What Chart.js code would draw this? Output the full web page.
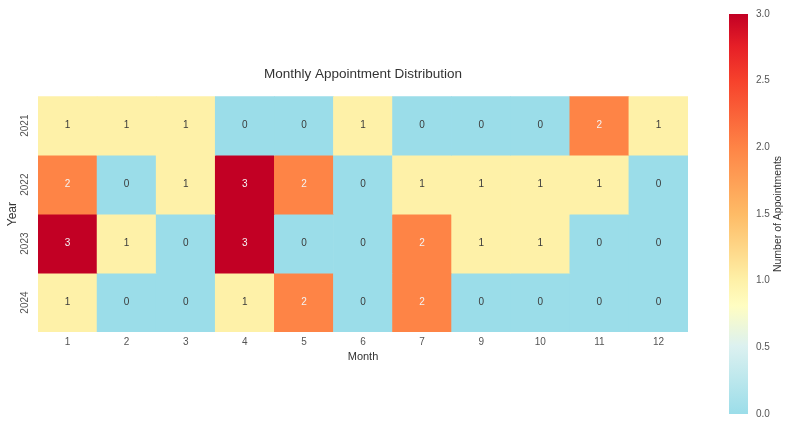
<!DOCTYPE html>
<html>
<head>
<meta charset="utf-8">
<script src="https://cdn.jsdelivr.net/npm/chart.js@4.4.0/dist/chart.umd.min.js"></script>
<style>
  body { margin: 0; background: #fff; }
  #wrap { position: relative; width: 799px; height: 441px; }
  #heat { position: absolute; left: 0; top: 0; }
  #cbar { position: absolute; left: 720px; top: 0; }
</style>
</head>
<body>
<div id="wrap">
  <canvas id="heat" width="720" height="441"></canvas>
  <canvas id="cbar" width="79" height="441"></canvas>
</div>
<script>
// data
var months = ['1', '2', '3', '4', '5', '6', '7', '9', '10', '11', '12'];
var years = ['2021', '2022', '2023', '2024'];
var y2021 = [1, 1, 1, 0, 0, 1, 0, 0, 0, 2, 1];
var y2022 = [2, 0, 1, 3, 2, 0, 1, 1, 1, 1, 0];
var y2023 = [3, 1, 0, 3, 0, 0, 2, 1, 1, 0, 0];
var y2024 = [1, 0, 0, 1, 2, 0, 2, 0, 0, 0, 0];
var counts = [y2021, y2022, y2023, y2024];
var cbarTicks = [0, 0.5, 1, 1.5, 2, 2.5, 3];
var vmin = 0, vmax = 3;

// colour map (position 0..1 -> colour)
var cmap = [
  [0.00, '#9bdde9'],
  [0.17, '#dcf1f0'],
  [0.27, '#fffdc2'],
  [0.333, '#fef1a8'],
  [0.50, '#febb66'],
  [0.667, '#fe8446'],
  [0.833, '#f6422c'],
  [0.92, '#e61f27'],
  [1.00, '#c20024']
];

var FONT = '"Liberation Sans", Arial, sans-serif';

function hexToRgb(h) {
  return [parseInt(h.substr(1, 2), 16), parseInt(h.substr(3, 2), 16), parseInt(h.substr(5, 2), 16)];
}

function cellColor(v) {
  var t = (v - vmin) / (vmax - vmin);
  for (var i = 1; i < cmap.length; i++) {
    if (t <= cmap[i][0]) {
      var a = hexToRgb(cmap[i - 1][1]), b = hexToRgb(cmap[i][1]);
      var f = (t - cmap[i - 1][0]) / (cmap[i][0] - cmap[i - 1][0]);
      return 'rgb(' + Math.round(a[0] + (b[0] - a[0]) * f) + ',' +
        Math.round(a[1] + (b[1] - a[1]) * f) + ',' +
        Math.round(a[2] + (b[2] - a[2]) * f) + ')';
    }
  }
  return cmap[cmap.length - 1][1];
}

// numbers inside cells
var cellLabels = {
  id: 'cellLabels',
  afterDatasetsDraw: function (chart) {
    var ctx = chart.ctx;
    ctx.save();
    ctx.font = '10px ' + FONT;
    ctx.textAlign = 'center';
    ctx.textBaseline = 'middle';
    chart.data.datasets.forEach(function (ds, i) {
      chart.getDatasetMeta(i).data.forEach(function (bar, j) {
        var v = ds.counts[j];
        var c = bar.getCenterPoint();
        ctx.fillStyle = v >= 2 ? '#f4f4f4' : '#3a3a3a';
        ctx.fillText(String(v), c.x, c.y);
      });
    });
    ctx.restore();
  }
};

function printHeatmap() {
  var datasets = counts.map(function (row, r) {
    return {
      label: years[r],
      data: row.map(function () { return [r, r + 1]; }),
      counts: row,
      backgroundColor: row.map(cellColor),
      borderWidth: 0,
      grouped: false,
      barPercentage: 1,
      categoryPercentage: 1
    };
  });

  var ctx = document.getElementById('heat').getContext('2d');
  new Chart(ctx, {
    type: 'bar',
    data: { labels: months, datasets: datasets },
    plugins: [cellLabels],
    options: {
      responsive: false,
      animation: false,
      layout: { padding: { left: 0, right: 32, top: 0, bottom: 69 } },
      plugins: {
        legend: { display: false },
        tooltip: { enabled: false },
        title: {
          display: true,
          text: 'Monthly Appointment Distribution',
          fullSize: false,
          color: '#333',
          font: { family: FONT, size: 13.5, weight: 'normal' },
          padding: { top: 66, bottom: 14 }
        }
      },
      scales: {
        x: {
          type: 'category',
          grid: { display: false, drawTicks: false },
          border: { display: false },
          ticks: { color: '#555', font: { family: FONT, size: 10 }, padding: 4 },
          title: {
            display: true, text: 'Month', color: '#333',
            font: { family: FONT, size: 11 }, padding: { top: 0, bottom: 8 }
          },
          afterFit: function (scale) { scale.height = 40; }
        },
        y: {
          type: 'linear',
          min: 0,
          max: 4,
          reverse: true,
          grid: { display: false, drawTicks: false },
          border: { display: false },
          afterBuildTicks: function (scale) {
            scale.ticks = years.map(function (y, i) { return { value: i + 0.5 }; });
          },
          ticks: {
            color: '#555',
            font: { family: FONT, size: 10 },
            minRotation: 90,
            maxRotation: 90,
            crossAlign: 'center',
            padding: 2,
            callback: function (v) { return years[Math.floor(v)]; }
          },
          title: {
            display: true, text: 'Year', color: '#333',
            font: { family: FONT, size: 12 }, padding: { top: 5, bottom: 0 }
          },
          afterFit: function (scale) { scale.width = 38; }
        }
      }
    }
  });
}

// rotated colour bar label
var cbarTitle = {
  id: 'cbarTitle',
  afterDraw: function (chart) {
    var ctx = chart.ctx;
    var area = chart.chartArea;
    ctx.save();
    ctx.translate(58, (area.top + area.bottom) / 2);
    ctx.rotate(-Math.PI / 2);
    ctx.font = '10.5px ' + FONT;
    ctx.fillStyle = '#333';
    ctx.textAlign = 'center';
    ctx.textBaseline = 'middle';
    ctx.fillText('Number of Appointments', 0, 0);
    ctx.restore();
  }
};

function printColorbar() {
  var ctx = document.getElementById('cbar').getContext('2d');
  new Chart(ctx, {
    type: 'bar',
    data: {
      labels: ['scale'],
      datasets: [{
        data: [[vmin, vmax]],
        backgroundColor: function (c) {
          var area = c.chart.chartArea;
          if (!area) return null;
          var g = c.chart.ctx.createLinearGradient(0, area.bottom, 0, area.top);
          cmap.forEach(function (s) { g.addColorStop(s[0], s[1]); });
          return g;
        },
        borderWidth: 0,
        barPercentage: 1,
        categoryPercentage: 1
      }]
    },
    plugins: [cbarTitle],
    options: {
      responsive: false,
      animation: false,
      layout: { padding: { left: 9, right: 0, top: 13, bottom: 27 } },
      plugins: { legend: { display: false }, tooltip: { enabled: false } },
      scales: {
        x: { display: false },
        y: {
          position: 'right',
          min: vmin,
          max: vmax,
          grid: { display: false, drawTicks: false },
          border: { display: false },
          afterBuildTicks: function (scale) {
            scale.ticks = cbarTicks.map(function (v) { return { value: v }; });
          },
          ticks: {
            color: '#555',
            font: { family: FONT, size: 10 },
            padding: 8,
            callback: function (v) { return Number(v).toFixed(1); }
          },
          afterFit: function (scale) { scale.width = 51; }
        }
      }
    }
  });
}

function init() {
  printHeatmap();
  printColorbar();
}
init();
</script>
</body>
</html>
